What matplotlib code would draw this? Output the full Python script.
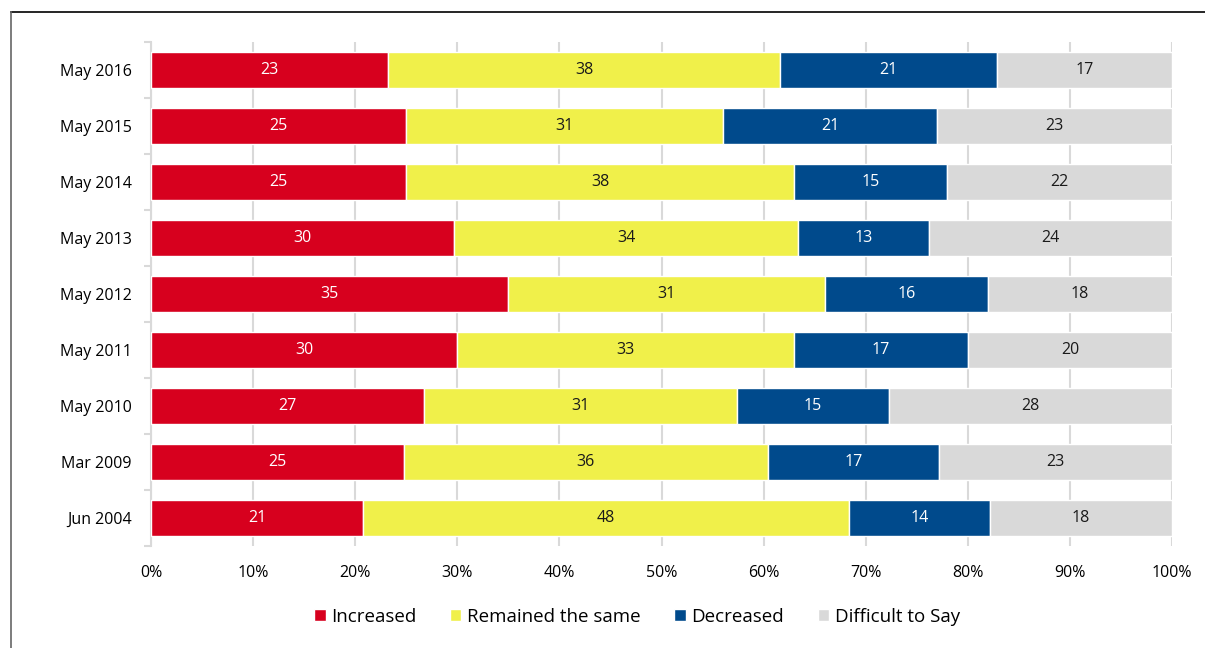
import matplotlib.pyplot as plt
import numpy as np
from matplotlib.lines import Line2D

plt.rcParams['font.family'] = ['Open Sans', 'DejaVu Sans']

# survey waves, top to bottom as shown
periods = ["May 2016", "May 2015", "May 2014", "May 2013", "May 2012",
           "May 2011", "May 2010", "Mar 2009", "Jun 2004"]
increased = [23, 25, 25, 30, 35, 30, 27, 25, 21]
same = [38, 31, 38, 34, 31, 33, 31, 36, 48]
decreased = [21, 21, 15, 13, 16, 17, 15, 17, 14]
difficult = [17, 23, 22, 24, 18, 20, 28, 23, 18]

series = ["Increased", "Remained the same", "Decreased", "Difficult to Say"]
colors = ["#d7001e", "#f0f04a", "#004a8c", "#d9d9d9"]
label_colors = ["white", "#1a1a1a", "white", "#1a1a1a"]

vals = np.array([increased, same, decreased, difficult], dtype=float)
shares = vals / vals.sum(axis=0) * 100

fig = plt.figure(figsize=(12.05, 6.48), dpi=100)
ax = fig.add_axes([151 / 1205, 1 - 546 / 648, 1021 / 1205, 504 / 648])

y = np.arange(len(periods))
left = np.zeros(len(periods))
for i in range(4):
    bars = ax.barh(y, shares[i], left=left, height=0.63, color=colors[i],
                   edgecolor="white", linewidth=1, label=series[i], zorder=3)
    for j, b in enumerate(bars):
        ax.text(left[j] + shares[i][j] / 2, y[j], f"{int(vals[i][j])}",
                ha="center", va="center", fontsize=11.5,
                color=label_colors[i], zorder=4)
    left += shares[i]

ax.set_ylim(len(periods) - 0.5, -0.5)
ax.set_xlim(0, 100)
ax.set_yticks(y)
ax.set_yticklabels(periods, fontsize=11.5)
ax.set_yticks(np.arange(-0.5, len(periods)), minor=True)
ax.tick_params(axis="y", which="major", length=0, pad=14)
ax.tick_params(axis="y", which="minor", length=5, color="#d9d9d9", width=1.5)
ax.set_xticks(np.arange(0, 101, 10))
ax.set_xticklabels([f"{t}%" for t in range(0, 101, 10)], fontsize=11.5)
ax.tick_params(axis="x", length=0, pad=14)
ax.grid(axis="x", color="#d9d9d9", linewidth=1.5, zorder=0)
for s in ["top", "right", "bottom"]:
    ax.spines[s].set_visible(False)
ax.spines["left"].set_color("#d9d9d9")
ax.spines["left"].set_linewidth(1.5)

leg = fig.legend(loc="center", bbox_to_anchor=(637 / 1205, 1 - 617 / 648),
                 ncol=4, frameon=False, fontsize=13.5, handlelength=0.6,
                 handleheight=0.6, handletextpad=0.3, columnspacing=1.8)

# cropped outer frame
fig.add_artist(Line2D([11 / 1205, 1], [1 - 12 / 648, 1 - 12 / 648],
                      color="black", linewidth=1.2))
fig.add_artist(Line2D([11 / 1205, 11 / 1205], [0, 1 - 12 / 648],
                      color="#666666", linewidth=1.2))

fig.savefig("out.png", dpi=100)
